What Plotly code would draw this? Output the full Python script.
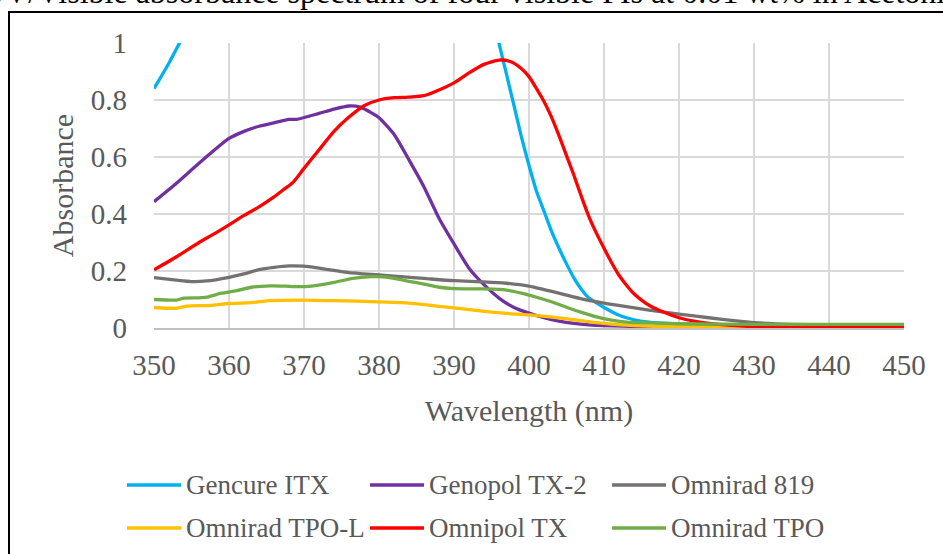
import plotly.graph_objects as go

# ---------------- data ----------------
itx_wl = [350, 352, 354, 356, 360, 365, 370, 375, 380, 385, 390, 393, 394, 395, 396, 397, 398, 399, 400,
          401, 402, 403, 404, 405, 406, 407, 408, 409, 410, 412, 414, 416, 418, 420, 425, 430, 440, 450]
itx_abs = [0.84, 0.93, 1.03, 1.13, 1.32, 1.55, 1.8, 2.0, 2.15, 2.2, 1.95, 1.4, 1.28, 1.14, 1.0, 0.89, 0.78, 0.67, 0.57,
           0.48, 0.41, 0.34, 0.28, 0.225, 0.175, 0.135, 0.105, 0.088, 0.072, 0.045, 0.029, 0.021, 0.017, 0.014, 0.011, 0.01, 0.009, 0.008]

tx2_wl = [350, 353, 356, 360, 362, 364, 366, 368, 369, 372, 374, 376, 377.5, 379, 380, 382, 384, 386, 388, 390,
          392, 394, 396, 398, 400, 402, 404, 406, 408, 410, 415, 420, 430, 450]
tx2_abs = [0.443, 0.508, 0.578, 0.665, 0.69, 0.708, 0.72, 0.732, 0.732, 0.753, 0.768, 0.779, 0.775, 0.755, 0.738, 0.68,
           0.59, 0.495, 0.385, 0.295, 0.21, 0.152, 0.105, 0.072, 0.052, 0.036, 0.024, 0.016, 0.011, 0.008, 0.005, 0.003, 0.002, 0.002]

o819_wl = [350, 353, 355, 357, 360, 362, 364, 366, 368, 370, 372, 374, 376, 378, 380, 383, 386, 390, 394, 397, 400,
           402, 404.6, 407, 410, 413, 416, 420, 424, 427, 430, 435, 440, 450]
o819_abs = [0.177, 0.168, 0.163, 0.165, 0.178, 0.19, 0.205, 0.213, 0.218, 0.217, 0.21, 0.202, 0.194, 0.19, 0.186, 0.18,
            0.174, 0.166, 0.162, 0.157, 0.147, 0.135, 0.118, 0.102, 0.087, 0.075, 0.063, 0.049, 0.036, 0.027, 0.019, 0.013, 0.011, 0.01]

tpol_wl = [350, 353, 354.4, 357.5, 360, 363, 365.5, 370, 374, 380, 383, 386, 388, 390, 394, 397, 400, 404.6, 409, 413.5,
           418, 425, 450]
tpol_abs = [0.072, 0.069, 0.077, 0.079, 0.086, 0.089, 0.096, 0.098, 0.096, 0.092, 0.089, 0.082, 0.076, 0.071, 0.058,
            0.051, 0.046, 0.034, 0.019, 0.009, 0.005, 0.003, 0.002]

optx_wl = [350, 353, 356, 358, 360, 362, 364, 366, 367.5, 368.5, 370, 372, 374, 376, 378, 380, 382, 384, 386, 388, 390,
           392, 394, 396, 397.5, 399, 400, 401, 402, 403, 404, 405, 406, 407, 408, 409, 410, 411, 412, 413, 414, 415,
           416, 418, 420, 422, 424, 427, 430, 435, 440, 450]
optx_abs = [0.204, 0.25, 0.3, 0.33, 0.362, 0.395, 0.425, 0.46, 0.49, 0.51, 0.56, 0.625, 0.69, 0.74, 0.78, 0.8, 0.808,
            0.81, 0.815, 0.835, 0.86, 0.895, 0.925, 0.94, 0.935, 0.91, 0.882, 0.84, 0.795, 0.74, 0.675, 0.605, 0.535,
            0.46, 0.39, 0.332, 0.28, 0.23, 0.185, 0.15, 0.12, 0.098, 0.08, 0.055, 0.036, 0.024, 0.016, 0.009, 0.005,
            0.003, 0.002, 0.001]

tpo_wl = [350, 353, 354, 356, 357, 359, 361, 363, 365.5, 367.5, 369, 371, 374, 376.5, 379, 380, 382, 384, 386, 388,
          390, 394, 397, 399, 401, 403, 405, 407, 409, 411, 413, 416, 420, 430, 450]
tpo_abs = [0.1, 0.098, 0.105, 0.106, 0.108, 0.122, 0.131, 0.143, 0.148, 0.147, 0.145, 0.147, 0.16, 0.174, 0.18, 0.18,
           0.174, 0.164, 0.154, 0.143, 0.138, 0.137, 0.133, 0.122, 0.108, 0.092, 0.073, 0.055, 0.039, 0.028, 0.021,
           0.018, 0.015, 0.013, 0.013]

series_names = ["Gencure ITX", "Genopol TX-2", "Omnirad 819", "Omnirad TPO-L", "Omnipol TX", "Omnirad TPO"]
series_x = [itx_wl, tx2_wl, o819_wl, tpol_wl, optx_wl, tpo_wl]
series_y = [itx_abs, tx2_abs, o819_abs, tpol_abs, optx_abs, tpo_abs]
series_colors = ["#00B0F0", "#7030A0", "#767171", "#FFC000", "#FF0000", "#70AD47"]

x_ticks = [350, 360, 370, 380, 390, 400, 410, 420, 430, 440, 450]
y_ticks = [0, 0.2, 0.4, 0.6, 0.8, 1]
y_tick_labels = ["0", "0.2", "0.4", "0.6", "0.8", "1"]

title_text = "UV/Visible absorbance spectrum of four visible PIs at 0.01 wt% in Acetonitrile"

# ---------------- layout geometry ----------------
W, H = 943, 554
L, R, T, B = 154, 904, 43, 328   # plot area in pixels
FONT = "Liberation Serif"
TXT = "#595959"


def px_x(p):
    return (p - L) / (R - L)


def px_y(p):
    return 1 - (p - T) / (B - T)


fig = go.Figure()
for name, xs, ys, col in zip(series_names, series_x, series_y, series_colors):
    fig.add_trace(go.Scatter(x=xs, y=ys, mode="lines", name=name,
                             line=dict(color=col, width=3.3, shape="spline", smoothing=0.6),
                             showlegend=False, hoverinfo="x+y+name"))

# manual legend
leg_rows = [485, 528]
leg_line_x = [127, 370, 612]
for i, (name, col) in enumerate(zip(series_names, series_colors)):
    r, c = divmod(i, 3)
    y = px_y(leg_rows[r])
    x0 = leg_line_x[c]
    fig.add_shape(type="line", xref="paper", yref="paper",
                  x0=px_x(x0), x1=px_x(x0 + 54), y0=y, y1=y,
                  line=dict(color=col, width=3.5))
    fig.add_annotation(xref="paper", yref="paper", x=px_x(x0 + 57), y=y,
                       xanchor="left", yanchor="middle", text=name, showarrow=False,
                       font=dict(family=FONT, size=27, color=TXT))

# outer chart frame (extends beyond visible window on right/bottom)
fig.add_shape(type="rect", xref="paper", yref="paper",
              x0=px_x(9), x1=px_x(960), y0=px_y(12), y1=px_y(570),
              line=dict(color="black", width=2), layer="below")

# title (cropped at top, as in the reference)
fig.add_annotation(xref="paper", yref="paper", x=px_x(489), y=px_y(-8),
                   xanchor="center", yanchor="middle", text=title_text, showarrow=False,
                   font=dict(family=FONT, size=32, color="black"))

fig.update_layout(
    width=W, height=H,
    margin=dict(l=L, r=W - R, t=T, b=H - B),
    paper_bgcolor="white", plot_bgcolor="white",
    font=dict(family=FONT, color=TXT),
    showlegend=False,
)
fig.update_xaxes(range=[350, 450], tickvals=x_ticks, showgrid=True, gridcolor="#D9D9D9", gridwidth=1.5,
                 showline=True, linecolor="#BFBFBF", linewidth=1.5, zeroline=False, ticks="",
                 ticklabelstandoff=10, tickfont=dict(family=FONT, size=29, color=TXT),
                 title=dict(text="Wavelength (nm)", font=dict(family=FONT, size=30, color=TXT), standoff=20))
fig.update_yaxes(range=[0, 1], tickvals=y_ticks, ticktext=y_tick_labels, showgrid=True, gridcolor="#D9D9D9",
                 gridwidth=1.5, zeroline=False, showline=False, ticks="",
                 ticklabelstandoff=26, tickfont=dict(family=FONT, size=29, color=TXT),
                 title=dict(text="Absorbance", font=dict(family=FONT, size=30, color=TXT), standoff=8))

fig.write_html("out.html")
